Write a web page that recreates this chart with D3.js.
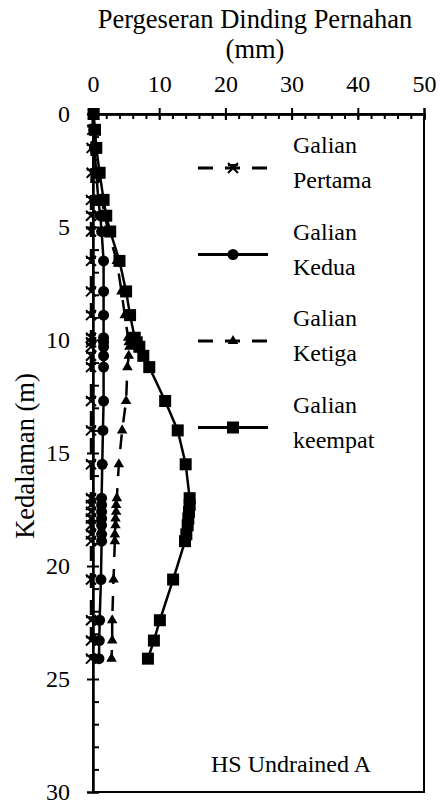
<!DOCTYPE html>
<html>
<head>
<meta charset="utf-8">
<script src="https://cdn.jsdelivr.net/npm/d3@7/dist/d3.min.js"></script>
<style>
  body { margin: 0; background: #fff; }
</style>
</head>
<body>
<div id="chart"></div>
<script>
// kedalaman titik (m)
const depths = [0, 0.7, 1.5, 2.6, 3.8, 4.5, 5.2, 6.5, 7.85, 8.9,
  9.9, 10.1, 10.3, 10.7, 11.2, 12.7, 14.0, 15.5, 17.0, 17.3,
  17.6, 17.9, 18.2, 18.6, 18.9, 20.6, 22.4, 23.3, 24.1];

// pergeseran (mm) tiap tahap galian
const galianPertama = [0, -0.1, -0.2, -0.2, -0.3, -0.3, -0.3, -0.3, -0.3, -0.3,
  -0.3, -0.3, -0.3, -0.3, -0.3, -0.3, -0.3, -0.3, -0.3, -0.3,
  -0.3, -0.3, -0.3, -0.3, -0.3, -0.3, -0.3, -0.3, -0.3];
const galianKedua = [0, 0.1, 0.2, 0.5, 0.8, 1.1, 1.3, 1.6, 1.6, 1.6,
  1.6, 1.6, 1.6, 1.6, 1.6, 1.6, 1.5, 1.4, 1.3, 1.3,
  1.3, 1.3, 1.3, 1.3, 1.3, 1.2, 1.0, 0.95, 0.9];
const galianKetiga = [0, 0.2, 0.4, 0.8, 1.3, 1.8, 2.3, 3.6, 4.3, 4.8,
  5.3, 5.4, 5.5, 5.4, 5.2, 5.0, 4.4, 3.9, 3.6, 3.5,
  3.5, 3.4, 3.4, 3.3, 3.3, 3.1, 2.9, 2.9, 2.8];
const galianKeempat = [0.1, 0.3, 0.5, 1.0, 1.6, 2.0, 2.6, 4.0, 5.0, 5.6,
  6.3, 6.6, 7.0, 7.6, 8.5, 10.9, 12.8, 14.0, 14.6, 14.6,
  14.5, 14.4, 14.3, 14.1, 13.9, 12.1, 10.1, 9.2, 8.3];

const seriesNames = ['Galian|Pertama', 'Galian|Kedua', 'Galian|Ketiga', 'Galian|keempat'];
const xTicks = [0, 10, 20, 30, 40, 50];
const yTicks = [0, 5, 10, 15, 20, 25, 30];

const FONT = "'Liberation Serif', 'Times New Roman', Times, serif";
const width = 440, height = 804;
const svg = d3.select('#chart').append('svg')
  .attr('width', width)
  .attr('height', height)
  .attr('font-family', FONT);

const x = d3.scaleLinear().domain([0, 50]).range([93, 424]);
const y = d3.scaleLinear().domain([0, 30]).range([114, 792]);

// bingkai plot
svg.append('rect')
  .attr('x', x(0)).attr('y', y(0))
  .attr('width', x(50) - x(0)).attr('height', y(30) - y(0))
  .attr('fill', 'none').attr('stroke', '#000').attr('stroke-width', 2);

// sumbu atas
svg.append('g')
  .attr('transform', `translate(0,${y(0)})`)
  .call(d3.axisTop(x).tickValues(xTicks).tickSize(6).tickPadding(16).tickFormat(d3.format('d')));
svg.append('g')
  .attr('transform', `translate(0,${y(0)})`)
  .call(d3.axisBottom(x).tickValues(d3.range(0, 51, 2)).tickSize(5).tickFormat(''));
svg.append('g')
  .attr('transform', `translate(0,${y(0)})`)
  .call(d3.axisBottom(x).tickValues(xTicks).tickSize(6).tickFormat(''));

// sumbu kiri
svg.append('g')
  .attr('transform', `translate(${x(0)},0)`)
  .call(d3.axisLeft(y).tickValues(yTicks).tickSize(6).tickPadding(17).tickFormat(d3.format('d')));
svg.append('g')
  .attr('transform', `translate(${x(0)},0)`)
  .call(d3.axisRight(y).tickValues(d3.range(0, 31, 1)).tickSize(6).tickFormat(''));

svg.selectAll('g').attr('font-family', FONT);
svg.selectAll('.domain').attr('stroke', '#000').attr('stroke-width', 2);
svg.selectAll('.tick line').attr('stroke', '#000').attr('stroke-width', 2);
svg.selectAll('.tick text').attr('font-size', 24).attr('fill', '#000');

// judul sumbu
svg.append('text').attr('x', 255).attr('y', 28).attr('text-anchor', 'middle')
  .attr('font-size', 26.5).text('Pergeseran Dinding Pernahan');
svg.append('text').attr('x', 255).attr('y', 58).attr('text-anchor', 'middle')
  .attr('font-size', 26.5).text('(mm)');
svg.append('text')
  .attr('transform', `translate(34,${(y(0) + y(30)) / 2 + 3}) rotate(-90)`)
  .attr('text-anchor', 'middle')
  .attr('font-size', 26.5).text('Kedalaman (m)');

svg.append('text').attr('x', 291).attr('y', 772).attr('text-anchor', 'middle')
  .attr('font-size', 24).text('HS Undrained A');

// penanda
function drawMarker(g, type, cx, cy) {
  if (type === 'x') {
    const s = 5;
    g.append('path')
      .attr('d', `M${cx - s},${cy - s}L${cx + s},${cy + s}M${cx - s},${cy + s}L${cx + s},${cy - s}M${cx - s},${cy - 3}L${cx + s},${cy - 3}`)
      .attr('stroke', '#000').attr('stroke-width', 2).attr('fill', 'none');
  } else if (type === 'circle') {
    g.append('circle').attr('cx', cx).attr('cy', cy).attr('r', 5.5).attr('fill', '#000');
  } else if (type === 'triangle') {
    g.append('path')
      .attr('d', d3.symbol().type(d3.symbolTriangle).size(48)())
      .attr('transform', `translate(${cx},${cy})`)
      .attr('fill', '#000');
  } else {
    g.append('rect').attr('x', cx - 6).attr('y', cy - 6)
      .attr('width', 12).attr('height', 12).attr('fill', '#000');
  }
}

const seriesList = [
  { values: galianPertama, dash: '15,12', marker: 'x' },
  { values: galianKedua, dash: null, marker: 'circle' },
  { values: galianKetiga, dash: '15,12', marker: 'triangle' },
  { values: galianKeempat, dash: null, marker: 'square' }
];

const line = d3.line()
  .x(d => x(d.v))
  .y(d => y(d.z));

seriesList.forEach(s => {
  const pts = depths.map((z, i) => ({ z: z, v: s.values[i] }));
  const g = svg.append('g');
  g.append('path')
    .datum(pts)
    .attr('d', line)
    .attr('fill', 'none')
    .attr('stroke', '#000')
    .attr('stroke-width', 2.5)
    .attr('stroke-dasharray', s.dash);
  pts.forEach(p => drawMarker(g, s.marker, x(p.v), y(p.z)));
});

// legenda
const legend = svg.append('g');
seriesList.forEach((s, i) => {
  const ly = 168 + i * 86.5;
  legend.append('line')
    .attr('x1', 198).attr('x2', 268).attr('y1', ly).attr('y2', ly)
    .attr('stroke', '#000').attr('stroke-width', 3)
    .attr('stroke-dasharray', s.dash);
  drawMarker(legend, s.marker, 233, ly);
  const parts = seriesNames[i].split('|');
  legend.append('text').attr('x', 293).attr('y', ly - 15)
    .attr('font-size', 24).text(parts[0]);
  legend.append('text').attr('x', 293).attr('y', ly + 20)
    .attr('font-size', 24).text(parts[1]);
});
</script>
</body>
</html>
